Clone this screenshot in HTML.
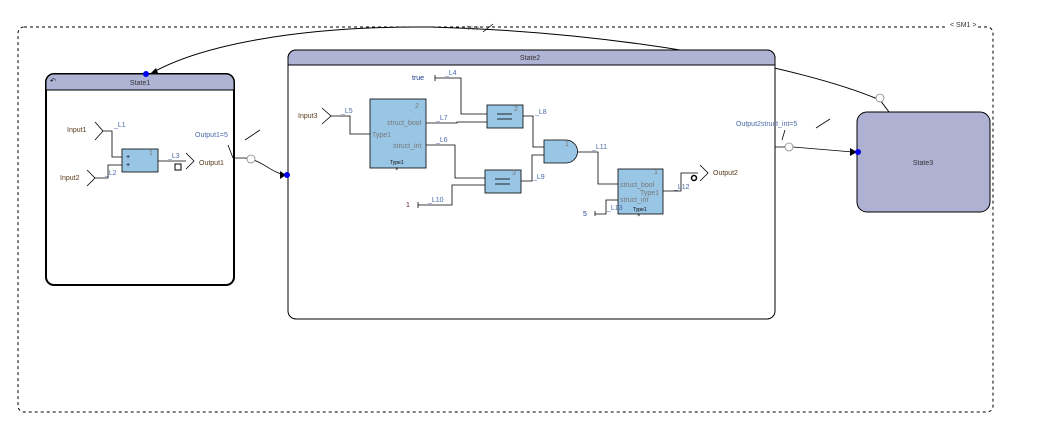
<!DOCTYPE html>
<html><head><meta charset="utf-8">
<style>
html,body{margin:0;padding:0;background:#fff;}
svg{display:block;font-family:"Liberation Sans",sans-serif;}
.t{font-size:7px;fill:#333;}
.b{font-size:7px;fill:#4a6aa8;}
.g{font-size:7px;fill:#777;}
.o{font-size:7px;fill:#222;}
</style></head><body>
<svg width="1038" height="437" viewBox="0 0 1038 437" xmlns="http://www.w3.org/2000/svg">
<rect x="18" y="27" width="975" height="385" rx="6" fill="none" stroke="#000" stroke-width="1" stroke-dasharray="3,3"/>
<rect x="946" y="20" width="32" height="9" fill="#fff"/>
<text x="950" y="27" class="t" font-size="7">&lt; SM1 &gt;</text>

<path d="M889,112 L880,100 C800,66 620,32 430,27 C300,26 200,45 150,74" fill="none" stroke="#000" stroke-width="1"/>
<circle cx="880" cy="98" r="4" fill="#fff" stroke="#888" stroke-width="0.8"/>
<text x="467" y="30" class="g" font-size="5">true</text>
<line x1="483" y1="32" x2="493" y2="24" stroke="#000" stroke-width="0.8"/>
<polygon points="150,74 156,68 158,73" fill="#000"/>

<rect x="46" y="74" width="188" height="211" rx="8" fill="#fff" stroke="#000" stroke-width="2"/>
<path d="M46,90 V82 a8,8 0 0 1 8,-8 H226 a8,8 0 0 1 8,8 V90 Z" fill="#b0b4d4" stroke="#000" stroke-width="1"/>
<line x1="46" y1="90" x2="234" y2="90" stroke="#000" stroke-width="1"/>
<text x="140" y="85" text-anchor="middle" class="t">State1</text>
<text x="50" y="83" font-size="7">↶</text>
<circle cx="146" cy="74" r="3" fill="#0000ee"/>

<text x="67" y="132" class="o" style="fill:#5a3a1a">Input1</text>
<polyline points="95,122 103,131 95,140" fill="none" stroke="#000" stroke-width="0.8"/>
<polyline points="103,131 112,131 112,157 122,157" fill="none" stroke="#000" stroke-width="0.8"/>
<text x="114" y="127" class="b">_L1</text>
<text x="60" y="180" class="o" style="fill:#5a3a1a">Input2</text>
<polyline points="87,170 95,178 87,186" fill="none" stroke="#000" stroke-width="0.8"/>
<polyline points="95,178 108,178 108,165 122,165" fill="none" stroke="#000" stroke-width="0.8"/>
<text x="105" y="175" class="b">_L2</text>
<rect x="122" y="149" width="36" height="23" fill="#9ac6e6" stroke="#000" stroke-width="0.8"/>
<text x="126" y="159" font-size="7">+</text><text x="126" y="167" font-size="7">+</text>
<text x="149" y="155" class="g" font-size="5">1</text>
<polyline points="158,161 186,161" fill="none" stroke="#000" stroke-width="0.8"/>
<text x="168" y="158" class="b">_L3</text>
<polyline points="186,153 194,161 186,169" fill="none" stroke="#000" stroke-width="0.8"/>
<text x="199" y="165" class="o" style="fill:#5a3a1a">Output1</text>
<rect x="175" y="164" width="6" height="6" fill="#fff" stroke="#000" stroke-width="1"/>

<text x="195" y="137" class="b">Output1=5</text>
<line x1="245" y1="140" x2="260" y2="130" stroke="#000" stroke-width="0.8"/>
<path d="M228,145 L233,158 M234,158 H245 C262,160 270,172 285,175" fill="none" stroke="#000" stroke-width="0.8"/>
<circle cx="251" cy="159" r="4" fill="#fff" stroke="#888" stroke-width="0.8"/>
<polygon points="286,175 280,171 280,179" fill="#000"/>

<rect x="288" y="50" width="487" height="269" rx="8" fill="#fff" stroke="#000" stroke-width="1"/>
<path d="M288,65 V58 a8,8 0 0 1 8,-8 H767 a8,8 0 0 1 8,8 V65 Z" fill="#b0b4d4" stroke="#000" stroke-width="1"/>
<text x="530" y="60" text-anchor="middle" class="t">State2</text>
<circle cx="287" cy="175" r="3" fill="#0000ee"/>

<text x="298" y="118" class="o" style="fill:#5a3a1a">Input3</text>
<polyline points="322,108 331,116 322,124" fill="none" stroke="#000" stroke-width="0.8"/>
<polyline points="331,116 350,116 350,134 370,134" fill="none" stroke="#000" stroke-width="0.8"/>
<text x="341" y="113" class="b">_L5</text>

<rect x="370" y="99" width="56" height="69" fill="#9ac6e6" stroke="#000" stroke-width="0.8"/>
<text x="415" y="108" class="g" font-size="5">2</text>
<text x="387" y="125" class="g">struct_bool</text>
<text x="372" y="137" class="g">Type1</text>
<text x="393" y="148" class="g">struct_int</text>
<text x="390" y="164" font-size="5">Type1</text>
<text x="395" y="171" font-size="6">×</text>

<text x="412" y="80" class="o" style="fill:#1a3a8a">true</text>
<line x1="435" y1="75" x2="435" y2="81" stroke="#000" stroke-width="0.8"/>
<polyline points="435,78 461,78 461,114 487,114" fill="none" stroke="#000" stroke-width="0.8"/>
<text x="445" y="75" class="b">_L4</text>
<polyline points="426,123 457,123 457,122 487,122" fill="none" stroke="#000" stroke-width="0.8"/>
<text x="436" y="120" class="b">_L7</text>
<rect x="487" y="105" width="36" height="23" fill="#9ac6e6" stroke="#000" stroke-width="0.8"/>
<line x1="497" y1="114" x2="512" y2="114" stroke="#000" stroke-width="0.8"/>
<line x1="497" y1="119" x2="512" y2="119" stroke="#000" stroke-width="0.8"/>
<text x="514" y="111" class="g" font-size="5">2</text>

<polyline points="426,145 455,145 455,178 485,178" fill="none" stroke="#000" stroke-width="0.8"/>
<text x="436" y="142" class="b">_L6</text>
<rect x="485" y="170" width="36" height="23" fill="#9ac6e6" stroke="#000" stroke-width="0.8"/>
<line x1="495" y1="179" x2="510" y2="179" stroke="#000" stroke-width="0.8"/>
<line x1="495" y1="184" x2="510" y2="184" stroke="#000" stroke-width="0.8"/>
<text x="512" y="175" class="g" font-size="5">3</text>
<text x="406" y="207" class="o" style="fill:#5a1a1a">1</text>
<line x1="418" y1="202" x2="418" y2="208" stroke="#000" stroke-width="0.8"/>
<polyline points="418,205 452,205 452,185 485,185" fill="none" stroke="#000" stroke-width="0.8"/>
<text x="428" y="202" class="b">_L10</text>

<polyline points="523,116 533,116 533,147 544,147" fill="none" stroke="#000" stroke-width="0.8"/>
<text x="535" y="114" class="b">_L8</text>
<polyline points="521,181 532,181 532,155 544,155" fill="none" stroke="#000" stroke-width="0.8"/>
<text x="533" y="179" class="b">_L9</text>
<path d="M544,140 H566 a11.5,11.5 0 0 1 0,23 H544 Z" fill="#9ac6e6" stroke="#000" stroke-width="0.8"/>
<text x="565" y="146" class="g" font-size="5">1</text>

<polyline points="578,152 598,152 598,184 618,184" fill="none" stroke="#000" stroke-width="0.8"/>
<text x="592" y="149" class="b">_L11</text>
<rect x="618" y="169" width="45" height="45" fill="#9ac6e6" stroke="#000" stroke-width="0.8"/>
<text x="654" y="174" class="g" font-size="5">1</text>
<text x="620" y="187" class="g">struct_bool</text>
<text x="640" y="195" class="g">Type1</text>
<text x="620" y="202" class="g">struct_int</text>
<text x="633" y="211" font-size="5">Type1</text>
<text x="637" y="217" font-size="6">×</text>
<text x="583" y="216" class="o" style="fill:#1a3a8a">5</text>
<line x1="595" y1="211" x2="595" y2="216" stroke="#000" stroke-width="0.8"/>
<polyline points="595,214 606,214 606,200 618,200" fill="none" stroke="#000" stroke-width="0.8"/>
<text x="607" y="210" class="b">_L13</text>
<polyline points="663,191 681,191 681,173 698,173" fill="none" stroke="#000" stroke-width="0.8"/>
<text x="674" y="189" class="b">_L12</text>
<polyline points="700,165 708,173 700,181" fill="none" stroke="#000" stroke-width="0.8"/>
<text x="713" y="175" class="o" style="fill:#5a3a1a">Output2</text>
<circle cx="694" cy="178" r="2.5" fill="#fff" stroke="#000" stroke-width="1.5"/>

<text x="736" y="126" class="b">Output2struct_int=5</text>
<line x1="816" y1="128" x2="830" y2="119" stroke="#000" stroke-width="0.8"/>
<path d="M785,130 L782,140 M775,147 H785 M793,147 L853,152" fill="none" stroke="#000" stroke-width="0.8"/>
<circle cx="789" cy="147" r="4" fill="#fff" stroke="#888" stroke-width="0.8"/>
<polygon points="857,152 850,148 850,156" fill="#000"/>

<rect x="857" y="112" width="133" height="100" rx="10" fill="#aeb1d2" stroke="#000" stroke-width="1"/>
<text x="923" y="165" text-anchor="middle" class="t">State3</text>
<circle cx="858" cy="152" r="3" fill="#0000ee"/>
</svg>
</body></html>
